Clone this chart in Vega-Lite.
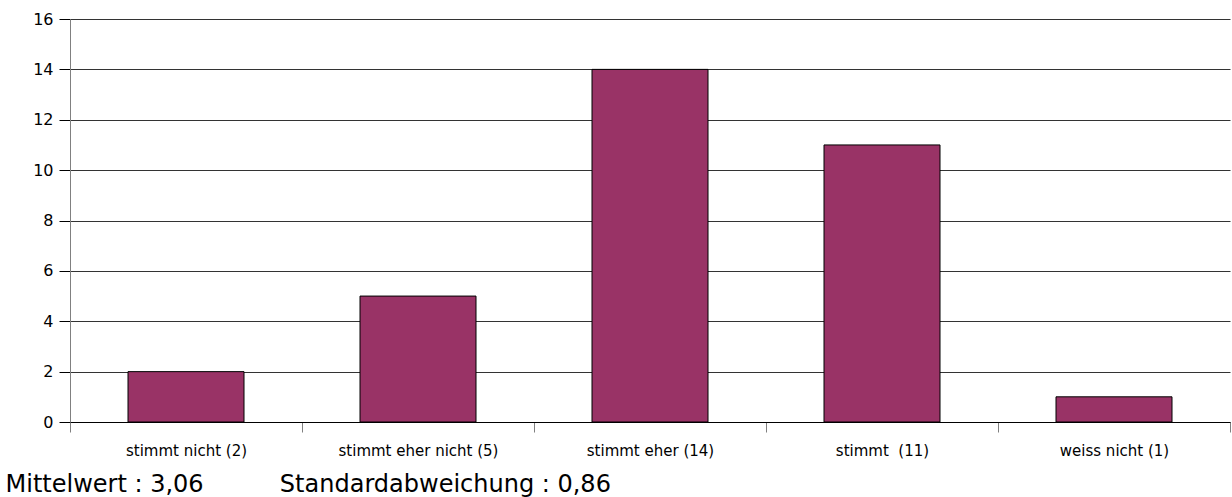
{
  "$schema": "https://vega.github.io/schema/vega-lite/v6.json",
  "width": 1160,
  "height": 403,
  "autosize": {"type": "none"},
  "padding": {"left": 70, "top": 19, "right": 2, "bottom": 75},
  "background": "white",
  "config": {"view": {"stroke": null}, "font": "DejaVu Sans"},
  "data": {
    "values": [
      {"kategorie": "stimmt nicht (2)", "anzahl": 2},
      {"kategorie": "stimmt eher nicht (5)", "anzahl": 5},
      {"kategorie": "stimmt eher (14)", "anzahl": 14},
      {"kategorie": "stimmt \u00a0(11)", "anzahl": 11},
      {"kategorie": "weiss nicht (1)", "anzahl": 1}
    ]
  },
  "mark": {"type": "bar", "color": "#993366", "stroke": "#000000", "strokeWidth": 1, "width": {"band": 0.5}},
  "encoding": {
    "x": {
      "field": "kategorie",
      "type": "nominal",
      "sort": null,
      "scale": {"paddingInner": 0, "paddingOuter": 0},
      "axis": {
        "title": "Mittelwert : 3,06\u00a0\u00a0\u00a0\u00a0\u00a0\u00a0\u00a0\u00a0\u00a0\u00a0Standardabweichung : 0,86",
        "titleFont": "DejaVu Sans",
        "titleFontSize": 24,
        "titleFontWeight": "normal",
        "titleColor": "#000000",
        "titleAnchor": "start",
        "titleAlign": "left",
        "titleBaseline": "alphabetic",
        "titleX": -65,
        "titleY": 69,
        "labelAngle": 0,
        "labelFont": "DejaVu Sans",
        "labelFontSize": 15,
        "labelColor": "#000000",
        "labelPadding": 11,
        "tickBand": "extent",
        "ticks": true,
        "tickSize": 10,
        "tickColor": "#808080",
        "domainColor": "#000000",
        "grid": false
      }
    },
    "y": {
      "field": "anzahl",
      "type": "quantitative",
      "scale": {"domain": [0, 16], "nice": false},
      "axis": {
        "title": null,
        "values": [0, 2, 4, 6, 8, 10, 12, 14, 16],
        "labelFont": "DejaVu Sans",
        "labelFontSize": 16,
        "labelColor": "#000000",
        "labelPadding": 6,
        "tickSize": 11,
        "tickColor": "#000000",
        "domainColor": "#808080",
        "grid": true,
        "gridColor": "#333333",
        "gridOpacity": 1,
        "gridWidth": 1
      }
    }
  }
}
